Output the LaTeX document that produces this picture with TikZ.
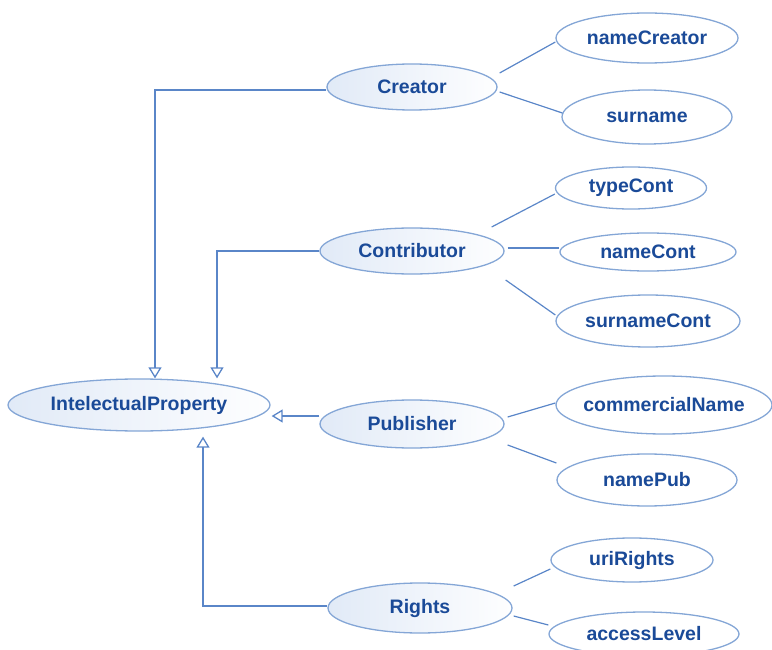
\documentclass[tikz,border=0pt]{standalone}
\usepackage{fontspec}
\setmainfont{Liberation Sans}
\usetikzlibrary{shapes.geometric,arrows.meta,calc}
\definecolor{txtblue}{HTML}{1A4A98}
\definecolor{edgeblue}{HTML}{84A6D6}
\definecolor{lineblue}{HTML}{5A86C8}
\definecolor{fillblue}{HTML}{E1EAF7}
\tikzset{
  ent/.style={ellipse, draw=edgeblue, line width=1.3pt, inner xsep=-20pt, inner ysep=0pt,
    font=\fontsize{19.5}{21}\selectfont\bfseries, text=txtblue},
  mainent/.style={ent, left color=fillblue, right color=white!96!fillblue},
  attr/.style={ent, fill=white},
  gen/.style={draw=lineblue, line width=1.3pt, -{Triangle[open, length=11pt, width=13pt]}},
  attrline/.style={draw=lineblue, line width=1.2pt},
}
\begin{document}
\begin{tikzpicture}[x=1pt,y=-1pt]
\useasboundingbox (0,0) rectangle (772,650);
% main entities
\node[mainent, minimum width=262pt, minimum height=52pt] (ip) at (139,405) {IntelectualProperty};
\node[mainent, minimum width=170pt, minimum height=46pt] (creator) at (412,87) {Creator};
\node[mainent, minimum width=184pt, minimum height=46pt] (contributor) at (412,251) {Contributor};
\node[mainent, minimum width=184pt, minimum height=48pt] (publisher) at (412,424) {Publisher};
\node[mainent, minimum width=184pt, minimum height=50pt] (rights) at (420,608) {Rights};
% attributes
\node[attr, minimum width=182pt, minimum height=50pt] (nameCreator) at (647,38) {nameCreator};
\node[attr, minimum width=170pt, minimum height=54pt] (surname) at (647,117) {surname};
\node[attr, minimum width=151pt, minimum height=42pt] (typeCont) at (631,188) {typeCont};
\node[attr, minimum width=176pt, minimum height=38pt] (nameCont) at (648,252) {nameCont};
\node[attr, minimum width=184pt, minimum height=52pt] (surnameCont) at (648,321) {surnameCont};
\node[attr, minimum width=216pt, minimum height=58pt] (commercialName) at (664,405) {commercialName};
\node[attr, minimum width=180pt, minimum height=52pt] (namePub) at (647,480) {namePub};
\node[attr, minimum width=162pt, minimum height=44pt] (uriRights) at (632,560) {uriRights};
\node[attr, minimum width=190pt, minimum height=44pt] (accessLevel) at (644,634) {accessLevel};
% generalisation connectors
\draw[gen] ([yshift=-3pt]creator.west) -| ([xshift=16pt]ip.north);
\draw[gen] (contributor.west) -| ([xshift=78pt]ip.north);
\draw[gen] ([yshift=8pt]publisher.west) -- ([xshift=1pt,yshift=-11pt]ip.east);
\draw[gen] ([yshift=2pt]rights.west) -| ([xshift=64pt,yshift=-5pt]ip.south);
% attribute connectors
\draw[attrline] ($(creator.east)+(2,-14)$) -- ($(nameCreator.west)+(0,4)$);
\draw[attrline] ($(creator.east)+(2,5)$) -- ($(surname.west)+(1,-4)$);
\draw[attrline] ($(contributor.east)+(-13,-24)$) -- ($(typeCont.west)+(0,6)$);
\draw[attrline] ($(contributor.east)+(3,-3)$) -- ($(nameCont.west)+(0,-4)$);
\draw[attrline] ($(contributor.east)+(1,29)$) -- ($(surnameCont.west)+(0,-6)$);
\draw[attrline] ($(publisher.east)+(3,-7)$) -- ($(commercialName.west)+(0,-2)$);
\draw[attrline] ($(publisher.east)+(3,21)$) -- ($(namePub.west)+(0,-17)$);
\draw[attrline] ($(rights.east)+(1,-22)$) -- ($(uriRights.west)+(0,9)$);
\draw[attrline] ($(rights.east)+(1,8)$) -- ($(accessLevel.west)+(0,-9)$);
\end{tikzpicture}
\end{document}
